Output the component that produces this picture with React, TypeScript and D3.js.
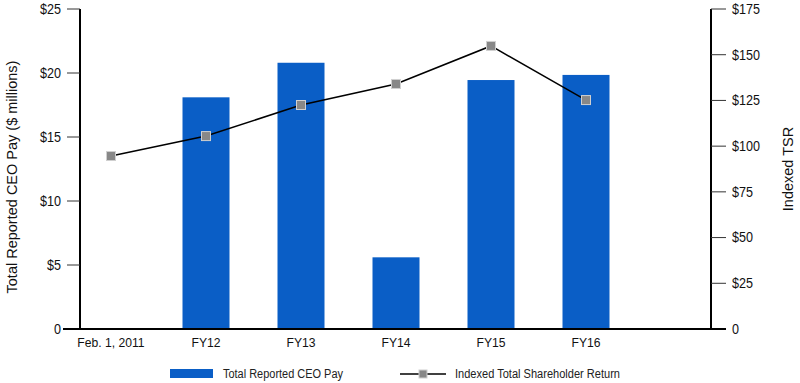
import React from "react";
import * as d3 from "d3";

const categories = ["Feb. 1, 2011", "FY12", "FY13", "FY14", "FY15", "FY16"];
const ceoPay: (number | null)[] = [null, 18.1, 20.8, 5.6, 19.45, 19.85];
const tsr = [94.6, 105.5, 122.5, 134, 154.8, 125.2];
const leftTicks = [0, 5, 10, 15, 20, 25];
const rightTicks = [0, 25, 50, 75, 100, 125, 150, 175];

const W = 800, H = 383;
const FONT = "'Liberation Sans Narrow', 'Arial Narrow', 'Liberation Sans', Arial, sans-serif";

export default function App() {
  const x0 = 80, x1 = 711, yTop = 9, yBot = 329;
  const x = d3.scalePoint<string>().domain(categories).range([111, 586]);
  const yL = d3.scaleLinear().domain([0, 25]).range([yBot, yTop]);
  const yR = d3.scaleLinear().domain([0, 175]).range([yBot, yTop]);
  const barW = 47;
  const line = d3.line<number>().x((_, i) => x(categories[i])!).y((d) => yR(d));
  return (
    <svg width={W} height={H} style={{ position: "absolute", left: 0, top: 0, background: "#fff" }} fontFamily={FONT}>
      {categories.map((c, i) =>
        ceoPay[i] == null ? null : (
          <rect key={c} x={x(c)! - barW / 2} y={yL(ceoPay[i]!)} width={barW} height={yBot - yL(ceoPay[i]!)} fill="#0a5ec6" />
        )
      )}
      {/* left axis */}
      <line x1={x0} x2={x0} y1={yTop} y2={yBot + 1} stroke="#000" strokeWidth={2} />
      {leftTicks.map((t) => (
        <g key={"l" + t}>
          <line x1={x0 - 13} x2={x0} y1={yL(t)} y2={yL(t)} stroke="#333" strokeWidth={1} />
          <text x={x0 - 19} y={yL(t)} dy="0.35em" textAnchor="end" fontSize={14} fill="#111" transform={`translate(${(x0 - 19) * 0.1},0) scale(0.9,1)`}>
            {t === 0 ? "0" : `$${t}`}
          </text>
        </g>
      ))}
      {/* right axis */}
      <line x1={x1} x2={x1} y1={yTop} y2={yBot + 1} stroke="#000" strokeWidth={2} />
      {rightTicks.map((t) => (
        <g key={"r" + t}>
          <line x1={x1} x2={x1 + 15} y1={yR(t)} y2={yR(t)} stroke="#333" strokeWidth={1} />
          <text x={x1 + 21} y={yR(t)} dy="0.35em" textAnchor="start" fontSize={14} fill="#111" transform={`translate(${(x1 + 21) * 0.1},0) scale(0.9,1)`}>
            {t === 0 ? "0" : `$${t}`}
          </text>
        </g>
      ))}
      {/* baseline */}
      <line x1={x0 - 17} x2={x1 + 15} y1={yBot} y2={yBot} stroke="#000" strokeWidth={2} />
      {categories.map((c) => (
        <text key={"x" + c} x={x(c)} y={347} textAnchor="middle" fontSize={13.5} fill="#111" transform={`translate(${x(c)! * 0.1},0) scale(0.9,1)`}>
          {c}
        </text>
      ))}
      {/* TSR line */}
      <path d={line(tsr) || ""} fill="none" stroke="#000" strokeWidth={1.5} />
      {tsr.map((v, i) => (
        <rect key={"m" + i} x={x(categories[i])! - 4.5} y={yR(v) - 4.5} width={9} height={9} fill="#888" stroke="#d0d0d0" strokeWidth={1} />
      ))}
      {/* axis titles */}
      <text transform={`translate(17,${(yTop + yBot) / 2 + 8}) rotate(-90)`} textAnchor="middle" fontSize={14.5} fill="#111" fontFamily="'Liberation Sans', Arial, sans-serif">
        Total Reported CEO Pay ($ millions)
      </text>
      <text transform={`translate(793,${(yTop + yBot) / 2}) rotate(-90)`} textAnchor="middle" fontSize={14.5} fill="#111" fontFamily="'Liberation Sans', Arial, sans-serif">
        Indexed TSR
      </text>
      {/* legend */}
      <rect x={170} y={369} width={43} height={9} fill="#0a5ec6" />
      <text x={223} y={374} dy="0.35em" fontSize={12} fill="#222" textLength={120} lengthAdjust="spacingAndGlyphs">Total Reported CEO Pay</text>
      <line x1={400} x2={446} y1={374} y2={374} stroke="#000" strokeWidth={1.5} />
      <rect x={419} y={370} width={8} height={8} fill="#888" stroke="#d0d0d0" strokeWidth={1} />
      <text x={455} y={374} dy="0.35em" fontSize={12} fill="#222" textLength={165} lengthAdjust="spacingAndGlyphs">Indexed Total Shareholder Return</text>
    </svg>
  );
}
